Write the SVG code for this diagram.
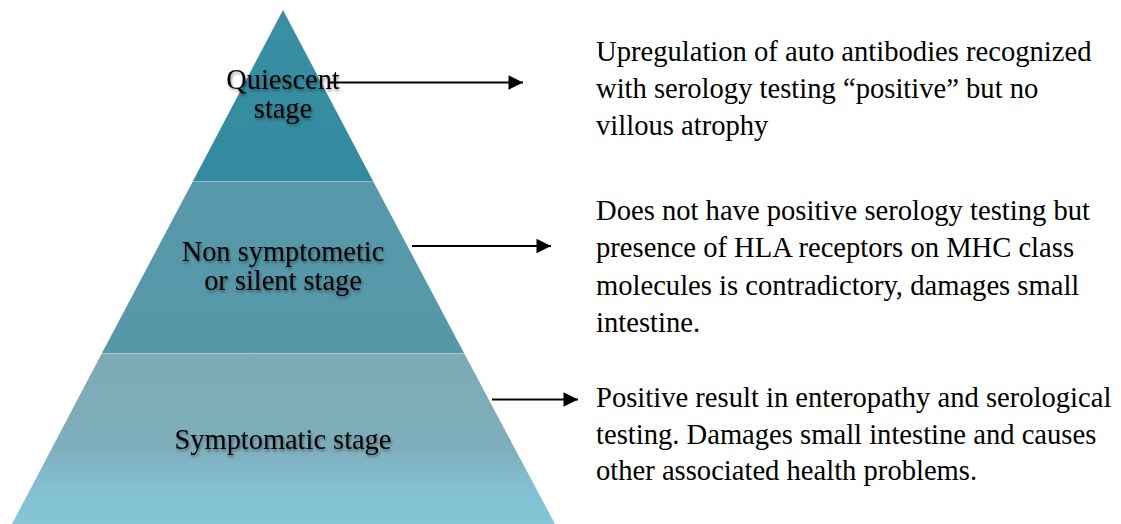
<svg xmlns="http://www.w3.org/2000/svg" width="1121" height="524" viewBox="0 0 1121 524">
  <style>
    .lbl { font-family: 'Liberation Serif', 'Times New Roman', Times, serif; font-size: 28.4px; fill: #000; text-anchor: middle; filter: url(#shadow); }
    .desc { font-family: 'Liberation Serif', 'Times New Roman', Times, serif; font-size: 28.6px; fill: #000; }
    .conn { stroke: #000; stroke-width: 2.2; fill: none; marker-end: url(#arrow); }
    .sep { stroke: #ffffff; stroke-opacity: 0.35; stroke-width: 1; }
  </style>
  <defs>
    <marker id="arrow" markerWidth="6.6" markerHeight="6.6" refX="7" refY="3.5" orient="auto" markerUnits="strokeWidth" viewBox="0 0 7 7">
      <path d="M0,0 L7,3.5 L0,7 z" fill="#000"/>
    </marker>
    <linearGradient id="gTop" x1="0" y1="0" x2="0" y2="1">
      <stop offset="0" stop-color="#3a8fa4"/>
      <stop offset="1" stop-color="#338a9f"/>
    </linearGradient>
    <linearGradient id="gMid" x1="0" y1="0" x2="0" y2="1">
      <stop offset="0" stop-color="#5799aa"/>
      <stop offset="1" stop-color="#5697a8"/>
    </linearGradient>
    <linearGradient id="gBot" x1="0" y1="0" x2="0" y2="1">
      <stop offset="0" stop-color="#7eaab6"/>
      <stop offset="0.55" stop-color="#7eaebb"/>
      <stop offset="0.8" stop-color="#83c1d2"/>
      <stop offset="1" stop-color="#85c5d6"/>
    </linearGradient>
    <filter id="shadow" x="-10%" y="-30%" width="120%" height="160%">
      <feGaussianBlur in="SourceAlpha" stdDeviation="1.6"/>
      <feOffset dx="0.5" dy="1.5" result="b"/>
      <feComponentTransfer><feFuncA type="linear" slope="0.45"/></feComponentTransfer>
      <feMerge><feMergeNode/><feMergeNode in="SourceGraphic"/></feMerge>
    </filter>
  </defs>
  <rect width="1121" height="524" fill="#ffffff"/>

  <g id="stage-quiescent">
    <polygon points="283,10 373,181 193,181" fill="url(#gTop)"/>
    <text class="lbl" x="283" y="89" font-family="Liberation Serif, serif">Quiescent</text>
    <text class="lbl" x="283" y="117.5" font-family="Liberation Serif, serif">stage</text>
  </g>
  <g id="stage-silent">
    <polygon points="193,181 373,181 464,353 102,353" fill="url(#gMid)"/>
    <line class="sep" x1="193" y1="181.5" x2="373" y2="181.5"/>
    <text class="lbl" x="283" y="261" font-family="Liberation Serif, serif">Non symptometic</text>
    <text class="lbl" x="283" y="290" font-family="Liberation Serif, serif">or silent stage</text>
  </g>
  <g id="stage-symptomatic">
    <polygon points="102,353 464,353 555,524 12,524" fill="url(#gBot)"/>
    <line class="sep" x1="102" y1="353.5" x2="464" y2="353.5"/>
    <text class="lbl" x="283" y="449" font-family="Liberation Serif, serif">Symptomatic stage</text>
  </g>

  <g id="desc-quiescent" font-family="Liberation Serif, serif">
    <text class="desc" x="596" y="61">Upregulation of auto antibodies recognized</text>
    <text class="desc" x="596" y="98">with serology testing “positive” but no</text>
    <text class="desc" x="596" y="135">villous atrophy</text>
  </g>
  <g id="desc-silent" font-family="Liberation Serif, serif">
    <text class="desc" x="596" y="220">Does not have positive serology testing but</text>
    <text class="desc" x="596" y="257">presence of HLA receptors on MHC class</text>
    <text class="desc" x="596" y="294.5">molecules is contradictory, damages small</text>
    <text class="desc" x="596" y="331.5">intestine.</text>
  </g>
  <g id="desc-symptomatic" font-family="Liberation Serif, serif">
    <text class="desc" x="596" y="407">Positive result in enteropathy and serological</text>
    <text class="desc" x="596" y="443.5">testing. Damages small intestine and causes</text>
    <text class="desc" x="596" y="480">other associated health problems.</text>
  </g>

  <g id="connectors">
    <line class="conn" x1="330" y1="82.5" x2="523" y2="82.5"/>
    <line class="conn" x1="412" y1="246" x2="551" y2="246"/>
    <line class="conn" x1="492" y1="399.5" x2="578" y2="399.5"/>
  </g>
</svg>
